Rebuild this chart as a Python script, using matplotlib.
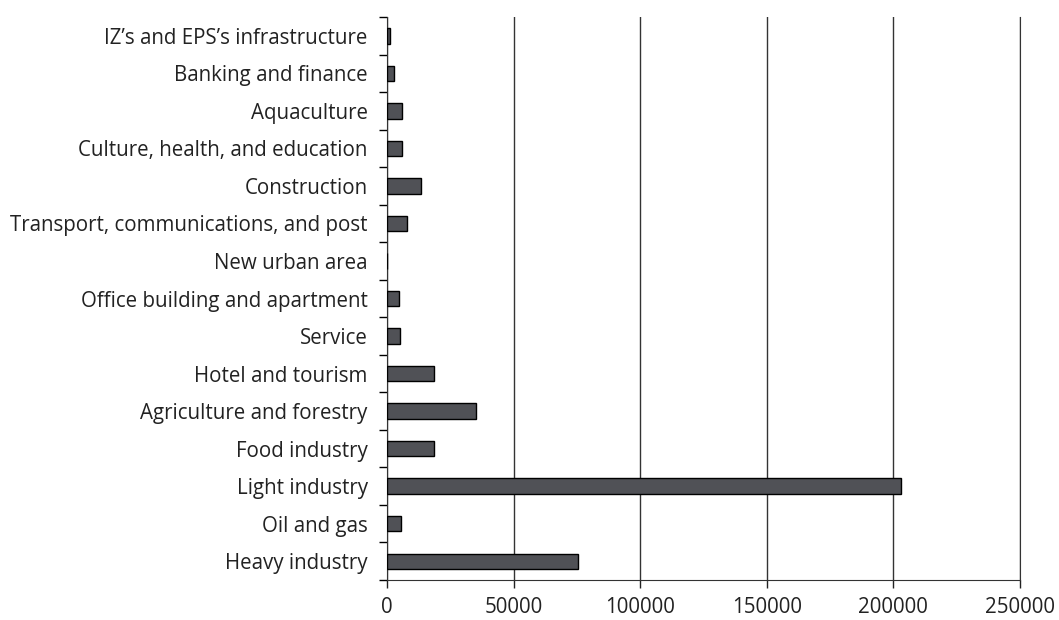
import matplotlib.pyplot as plt
import numpy as np

# categories bottom to top
sectors = ["Heavy industry", "Oil and gas", "Light industry", "Food industry",
           "Agriculture and forestry", "Hotel and tourism", "Service",
           "Office building and apartment", "New urban area",
           "Transport, communications, and post", "Construction",
           "Culture, health, and education", "Aquaculture",
           "Banking and finance", "IZ\u2019s and EPS\u2019s infrastructure"]
values = [75600, 5500, 203000, 18400, 35200, 18700, 5100, 4700, 0,
          8000, 13600, 5900, 5900, 2800, 1300]

plt.rcParams['font.family'] = ['Open Sans', 'DejaVu Sans']

fig = plt.figure(figsize=(10.59, 6.2), dpi=100)
ax = fig.add_axes([0.3654, 0.0645, 0.5978, 0.908])

y = np.arange(len(sectors))
ax.barh(y, values, height=0.41, color='#505156', edgecolor='black',
        linewidth=1.0, zorder=3)

ax.set_xlim(0, 250000)
ax.set_ylim(-0.5, len(sectors) - 0.5)
ax.set_xticks(np.arange(0, 250001, 50000))
ax.set_xticklabels([str(v) for v in range(0, 250001, 50000)], fontsize=14.8)
ax.xaxis.grid(True, color='#333333', linewidth=1.0, zorder=0)

# labels in the middle, ticks on category boundaries
ax.set_yticks(np.arange(-0.5, len(sectors), 1.0))
ax.set_yticklabels([])
ax.set_yticks(y, minor=True)
ax.set_yticklabels(sectors, minor=True, fontsize=14.8, color='#222222')
ax.tick_params(axis='y', which='minor', length=0, pad=14)
ax.tick_params(axis='y', which='major', length=6, width=1.0)
ax.tick_params(axis='x', length=6, width=1.0, pad=6, colors='#222222')

ax.spines['top'].set_visible(False)
for s in ['left', 'bottom', 'right']:
    ax.spines[s].set_color('#333333')

plt.savefig('out.png', dpi=100)
